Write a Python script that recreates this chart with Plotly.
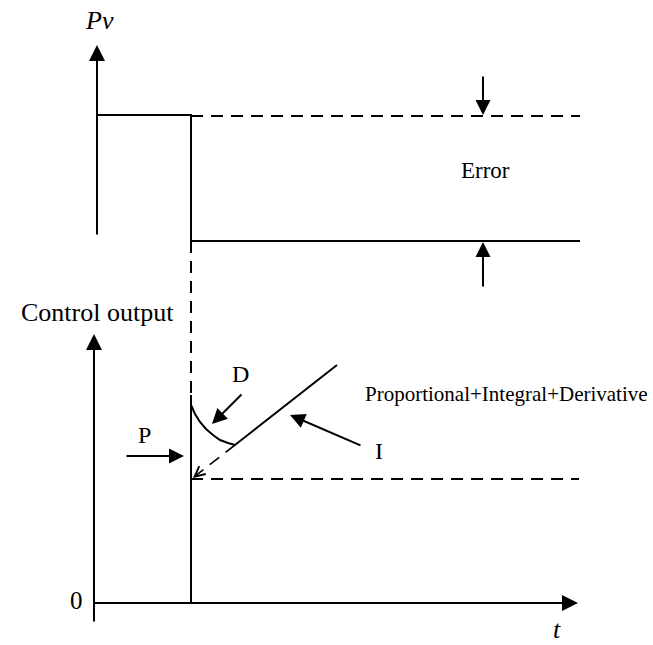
import plotly.graph_objects as go

W, H = 653, 645

# ---- Upper panel: process variable (Pv) ----
pv_t = [97, 191, 191, 580]          # measured Pv, solid
pv_v = [115, 115, 241, 241]
sp_t = [191, 580]                   # set point, dashed
sp_v = [116, 116]
drop_t = [191, 191]                 # dashed guide down to lower panel
drop_v = [241, 395]

# ---- Lower panel: control output ----
step_t = [191, 191]
step_v = [395, 602]
d_t = [191, 195, 200, 206, 213, 220, 228, 235, 337]   # D spike decaying into I ramp
d_v = [405, 414, 422, 429, 435, 440, 443, 445, 365]
iext_t = [235, 194]                 # dashed back-extension of I ramp
iext_v = [445, 477]
p_t = [191, 579]                    # proportional level, dashed
p_v = [479, 479]

# arrows: (tip_x, tip_y, tail_x, tail_y, head, size, width)
arrows = [
    (97, 45, 97, 236, 2, 1.6, 2),     # Pv axis
    (94, 334, 94, 623, 2, 1.6, 2),    # Control output axis
    (578, 603, 93, 603, 2, 1.6, 2),   # time axis
    (483, 115, 483, 75, 2, 1.5, 2),   # error top
    (483, 242, 483, 288, 2, 1.5, 2),  # error bottom
    (184, 456, 125, 456, 2, 1.5, 2),  # P
    (212, 424, 243, 393, 2, 1.5, 2),  # D
    (290, 415, 362, 446, 2, 1.5, 2),  # I
    (193, 478, 199, 473, 5, 2.0, 1),  # small head on dashed extension
]

labels = [
    ("<i>Pv</i>", 99, 20, "center", 26),
    ("Error", 485, 170, "center", 23),
    ("Control output", 97, 312, "center", 26),
    ("D", 240, 374, "center", 24),
    ("P", 144, 435, "center", 24),
    ("I", 379, 451, "center", 24),
    ("Proportional+Integral+Derivative", 363, 394, "left", 21),
    ("0", 76, 600, "center", 25),
    ("<i>t</i>", 557, 629, "center", 26),
]

SERIF = "Liberation Serif, Times New Roman, serif"
DASH = "12px,8px"

fig = go.Figure()

def add_line(x, y, dash="solid", width=2):
    fig.add_trace(go.Scatter(x=x, y=y, mode="lines",
                             line=dict(color="black", width=width, dash=dash),
                             hoverinfo="skip", showlegend=False))

add_line(pv_t, pv_v)
add_line(sp_t, sp_v, DASH)
add_line(drop_t, drop_v, DASH)
add_line(step_t, step_v)
add_line(d_t, d_v)
add_line(iext_t, iext_v, DASH, 1.6)
add_line(p_t, p_v, DASH)

annos = []
for tx, ty, ax, ay, head, size, wid in arrows:
    annos.append(dict(x=tx, y=ty, ax=ax, ay=ay, xref="x", yref="y",
                      axref="x", ayref="y", text="", showarrow=True,
                      arrowhead=head, arrowsize=size, arrowwidth=wid,
                      arrowcolor="black", standoff=0))
for txt, x, y, anchor, fs in labels:
    annos.append(dict(x=x, y=y, xref="x", yref="y", text=txt, showarrow=False,
                      xanchor=anchor, yanchor="middle",
                      font=dict(family=SERIF, size=fs, color="black")))

fig.update_layout(
    width=W, height=H,
    margin=dict(l=0, r=0, t=0, b=0),
    paper_bgcolor="white", plot_bgcolor="white",
    xaxis=dict(range=[0, W], visible=False, fixedrange=True),
    yaxis=dict(range=[H, 0], visible=False, fixedrange=True),
    annotations=annos,
    showlegend=False,
)

fig.write_html("out.html", config={"displayModeBar": False},
               post_script="document.body.style.margin='0';document.body.style.overflow='hidden';")
